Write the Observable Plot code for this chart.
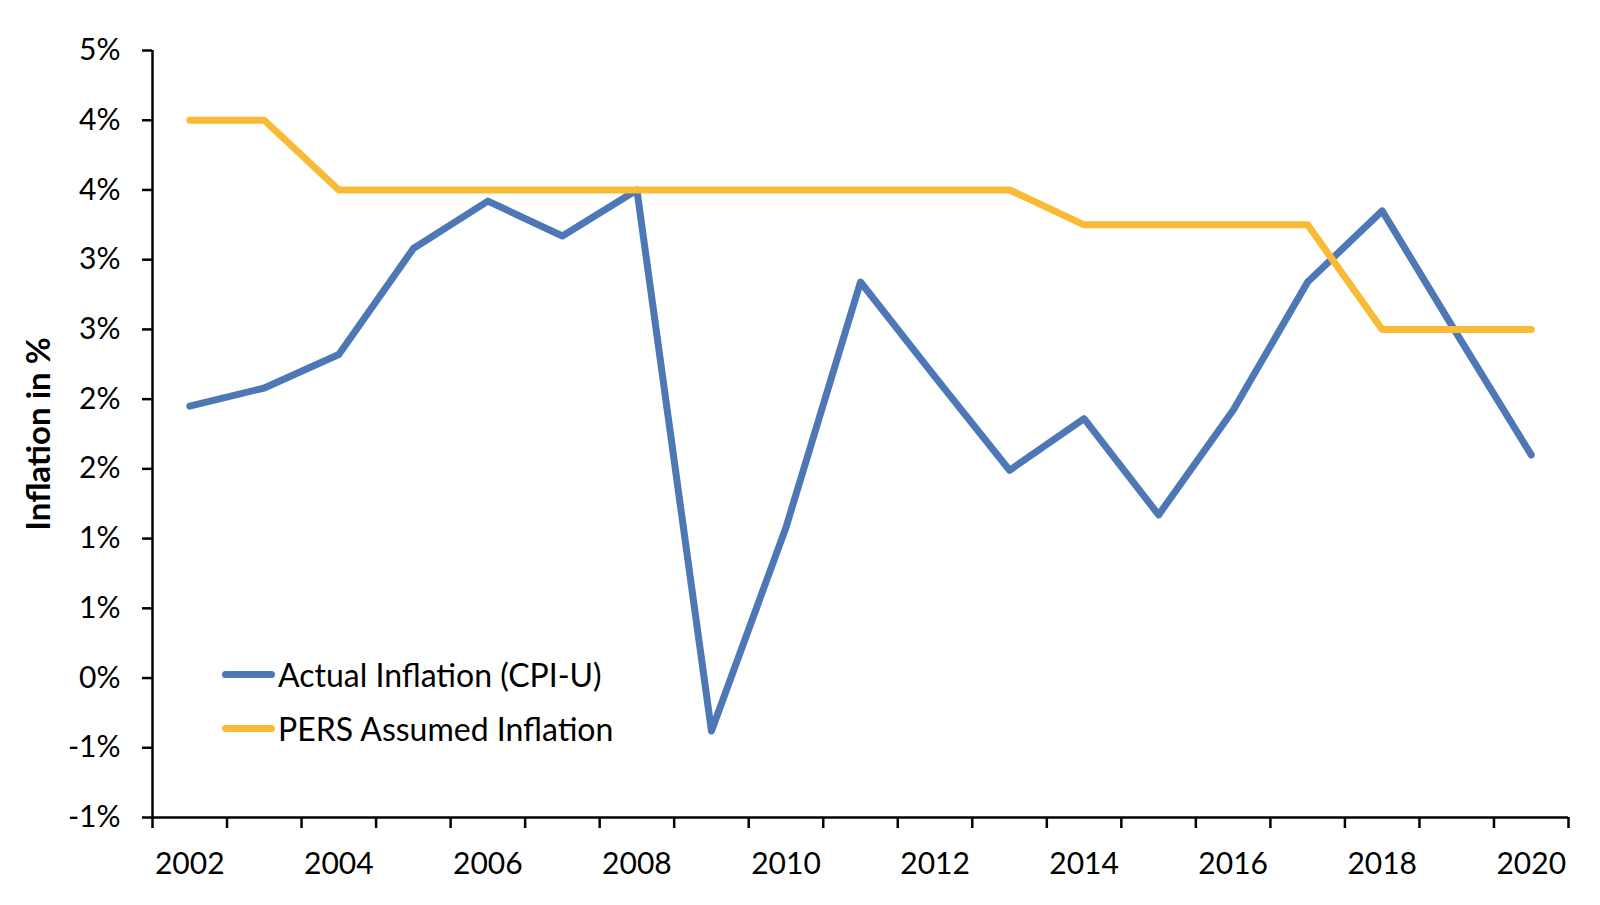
<!DOCTYPE html>
<html>
<head>
<meta charset="utf-8">
<script src="https://cdn.jsdelivr.net/npm/d3@7"></script>
<script src="https://cdn.jsdelivr.net/npm/@observablehq/plot@0.6"></script>
<style>
  html, body { margin: 0; padding: 0; background: #fff; }
  #wrap { position: relative; width: 1600px; height: 905px; font-family: Lato, "Open Sans", sans-serif; }
  #legend { position: absolute; left: 222px; top: 647px; }
  .row { display: flex; align-items: center; height: 54px; }
  .sw { width: 53px; height: 7px; border-radius: 4px; }
  .lt { margin-left: 3px; font-size: 32px; color: #000; white-space: nowrap; }
</style>
</head>
<body>
<div id="wrap"></div>
<script>
const years = [2002, 2003, 2004, 2005, 2006, 2007, 2008, 2009, 2010, 2011, 2012, 2013, 2014, 2015, 2016, 2017, 2018, 2019, 2020];
const actualInflation = [1.95, 2.08, 2.32, 3.08, 3.42, 3.17, 3.50, -0.38, 1.08, 2.84, 2.16, 1.49, 1.86, 1.17, 1.92, 2.84, 3.35, 2.47, 1.60];
const assumedInflation = [4.0, 4.0, 3.5, 3.5, 3.5, 3.5, 3.5, 3.5, 3.5, 3.5, 3.5, 3.5, 3.25, 3.25, 3.25, 3.25, 2.5, 2.5, 2.5];
const seriesNames = ["Actual Inflation (CPI-U)", "PERS Assumed Inflation"];
const seriesColors = ["#4E78B5", "#F9BB36"];
const yTickValues = [4.5, 4.0, 3.5, 3.0, 2.5, 2.0, 1.5, 1.0, 0.5, 0.0, -0.5, -1.0];
const yTickLabels = ["5%", "4%", "4%", "3%", "3%", "2%", "2%", "1%", "1%", "0%", "-1%", "-1%"];
const xLabelYears = [2002, 2004, 2006, 2008, 2010, 2012, 2014, 2016, 2018, 2020];
const xLabels = ["2002", "2004", "2006", "2008", "2010", "2012", "2014", "2016", "2018", "2020"];
const yTitle = "Inflation in %";

const rows = [];
years.forEach((yr, i) => {
  rows.push({year: yr, value: actualInflation[i], series: seriesNames[0]});
});
years.forEach((yr, i) => {
  rows.push({year: yr, value: assumedInflation[i], series: seriesNames[1]});
});
const xBounds = [years[0] - 0.5, ...years.map(y => y + 0.5)];

const chart = Plot.plot({
  width: 1600,
  height: 905,
  marginLeft: 152,
  marginRight: 32,
  marginTop: 50,
  marginBottom: 88,
  x: {type: "linear", domain: [years[0] - 0.5, years[years.length - 1] + 0.5], label: null},
  y: {domain: [-1, 4.5], label: null},
  color: {domain: seriesNames, range: seriesColors},
  style: {fontFamily: "Lato, 'Open Sans', sans-serif", fontSize: "30px", color: "#000", background: "#fff"},
  marks: [
    Plot.axisY(yTickValues, {tickSize: 10, tickPadding: 22, stroke: "#000", strokeWidth: 2.5, fontSize: 30, label: null,
      tickFormat: v => yTickLabels[yTickValues.indexOf(v)]}),
    Plot.axisX(xBounds, {tickSize: 11, stroke: "#000", strokeWidth: 2.5, label: null, tickFormat: () => ""}),
    Plot.axisX(xLabelYears, {tickSize: 0, tickPadding: 35, fontSize: 30, label: null,
      tickFormat: v => xLabels[xLabelYears.indexOf(v)]}),
    Plot.ruleY([-1], {stroke: "#000", strokeWidth: 2.5}),
    Plot.ruleX([years[0] - 0.5], {stroke: "#000", strokeWidth: 2.5}),
    Plot.text([yTitle], {frameAnchor: "left", dx: -113, rotate: -90, textAnchor: "middle", lineAnchor: "middle",
      fontWeight: "bold", fontSize: 33, fill: "#000"}),
    Plot.line(rows, {x: "year", y: "value", z: "series", stroke: "series", strokeWidth: 7,
      strokeLinecap: "round", strokeLinejoin: "round"})
  ]
});
document.getElementById("wrap").appendChild(chart);

const legend = document.createElement("div");
legend.id = "legend";
seriesNames.forEach((name, i) => {
  const row = document.createElement("div");
  row.className = "row";
  const sw = document.createElement("span");
  sw.className = "sw";
  sw.style.background = seriesColors[i];
  const t = document.createElement("span");
  t.className = "lt";
  t.textContent = name;
  row.appendChild(sw);
  row.appendChild(t);
  legend.appendChild(row);
});
document.getElementById("wrap").appendChild(legend);
</script>
</body>
</html>
